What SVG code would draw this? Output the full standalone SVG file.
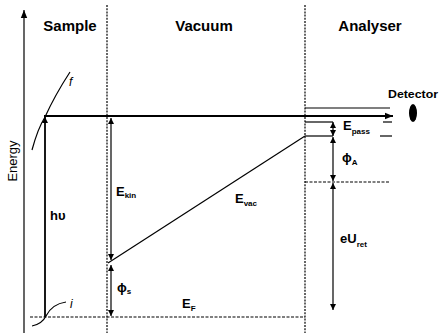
<svg xmlns="http://www.w3.org/2000/svg" width="440" height="333" viewBox="0 0 440 333">
<style>
.t{font-family:"Liberation Sans",Arial,sans-serif;fill:#000}
.title{font-size:15px;font-weight:bold}
.lbl{font-size:13px;font-weight:bold}
.sub{font-size:8px;font-weight:bold}
.ln{stroke:#000;fill:none;stroke-width:1.2}
.thick{stroke:#000;fill:none;stroke-width:1.8}
.dot{stroke:#000;fill:none;stroke-width:1.2;stroke-dasharray:2 1.2}
.dash{stroke:#000;fill:none;stroke-width:1.2;stroke-dasharray:3 1.5}
</style>
<defs>
<marker id="ah" viewBox="0 0 10 10" refX="10" refY="5" markerWidth="6" markerHeight="6" markerUnits="userSpaceOnUse" orient="auto-start-reverse">
<path d="M0,0 L10,5 L0,10 z" fill="#000"/>
</marker>
<marker id="ahBig" viewBox="0 0 10 10" refX="10" refY="5" markerWidth="8" markerHeight="8" markerUnits="userSpaceOnUse" orient="auto">
<path d="M0,1 L10,5 L0,9 z" fill="#000"/>
</marker>
</defs>
<rect width="440" height="333" fill="#fff"/>

<g id="axis">
<line class="ln" x1="24" y1="333" x2="24" y2="10" marker-end="url(#ahBig)"/>
<text class="t" font-size="13" transform="translate(17,161) rotate(-90)" text-anchor="middle">Energy</text>
</g>

<g id="regions">
<line class="dot" x1="107" y1="5" x2="107" y2="333"/>
<line class="dot" x1="305" y1="5" x2="305" y2="333"/>
<text class="t title" x="70" y="31" text-anchor="middle">Sample</text>
<text class="t title" x="204" y="31" text-anchor="middle">Vacuum</text>
<text class="t title" x="370" y="31" text-anchor="middle">Analyser</text>
</g>

<g id="sample">
<path class="ln" d="M32,150 Q38,128 45,117 Q55,95 70,72"/>
<text class="t" font-size="12" font-style="italic" x="69" y="86">f</text>
<path class="ln" d="M32,326 Q42,324 46,316 Q52,304 66,302"/>
<text class="t" font-size="12" font-style="italic" x="70" y="308">i</text>
<text class="t lbl" font-size="14" x="50" y="220">hυ</text>
</g>

<g id="vacuum">
<text class="t lbl" x="116" y="196">E<tspan class="sub" dy="2">kin</tspan></text>
<text class="t lbl" x="117" y="292">ϕ<tspan class="sub" dy="2">s</tspan></text>
<text class="t lbl" x="235" y="203">E<tspan class="sub" dy="3">vac</tspan></text>
<text class="t lbl" x="182" y="308">E<tspan class="sub" dy="3" font-size="9">F</tspan></text>
</g>

<g id="analyser">
<text class="t lbl" x="343" y="130">E<tspan class="sub" dy="4">pass</tspan></text>
<text class="t lbl" x="342" y="162">ϕ<tspan class="sub" dy="3">A</tspan></text>
<text class="t lbl" x="340" y="243">eU<tspan class="sub" dy="4">ret</tspan></text>
</g>

<g id="detector">
<ellipse cx="413" cy="113" rx="4" ry="9" fill="#000"/>
<text class="t" font-size="10" font-weight="bold" x="388" y="98" textLength="50" lengthAdjust="spacingAndGlyphs">Detector</text>
</g>

<g id="connectors">
<line class="thick" x1="44" y1="116" x2="393" y2="116" marker-end="url(#ahBig)"/>
<line class="ln" x1="305" y1="108" x2="390" y2="108"/>
<line class="ln" x1="305" y1="122" x2="333" y2="122"/>
<line class="ln" x1="383" y1="122" x2="392" y2="122"/>
<line class="ln" x1="305" y1="136" x2="333" y2="136"/>
<line class="ln" x1="380" y1="136" x2="392" y2="136"/>
<line class="dash" x1="305" y1="182" x2="390" y2="182"/>
<line class="dash" x1="30" y1="317" x2="305" y2="317"/>
<line class="ln" x1="108" y1="263" x2="305" y2="136"/>
<line class="thick" x1="45" y1="317" x2="45" y2="117" marker-end="url(#ah)"/>
<line class="ln" x1="111" y1="118" x2="111" y2="260" marker-start="url(#ah)" marker-end="url(#ah)"/>
<line class="ln" x1="111" y1="265" x2="111" y2="316" marker-start="url(#ah)" marker-end="url(#ah)"/>
<line class="ln" x1="333" y1="122" x2="333" y2="136" marker-start="url(#ah)" marker-end="url(#ah)"/>
<line class="ln" x1="333" y1="137" x2="333" y2="181" marker-start="url(#ah)" marker-end="url(#ah)"/>
<line class="ln" x1="333" y1="183" x2="333" y2="310" marker-start="url(#ah)" marker-end="url(#ah)"/>
</g>
</svg>
